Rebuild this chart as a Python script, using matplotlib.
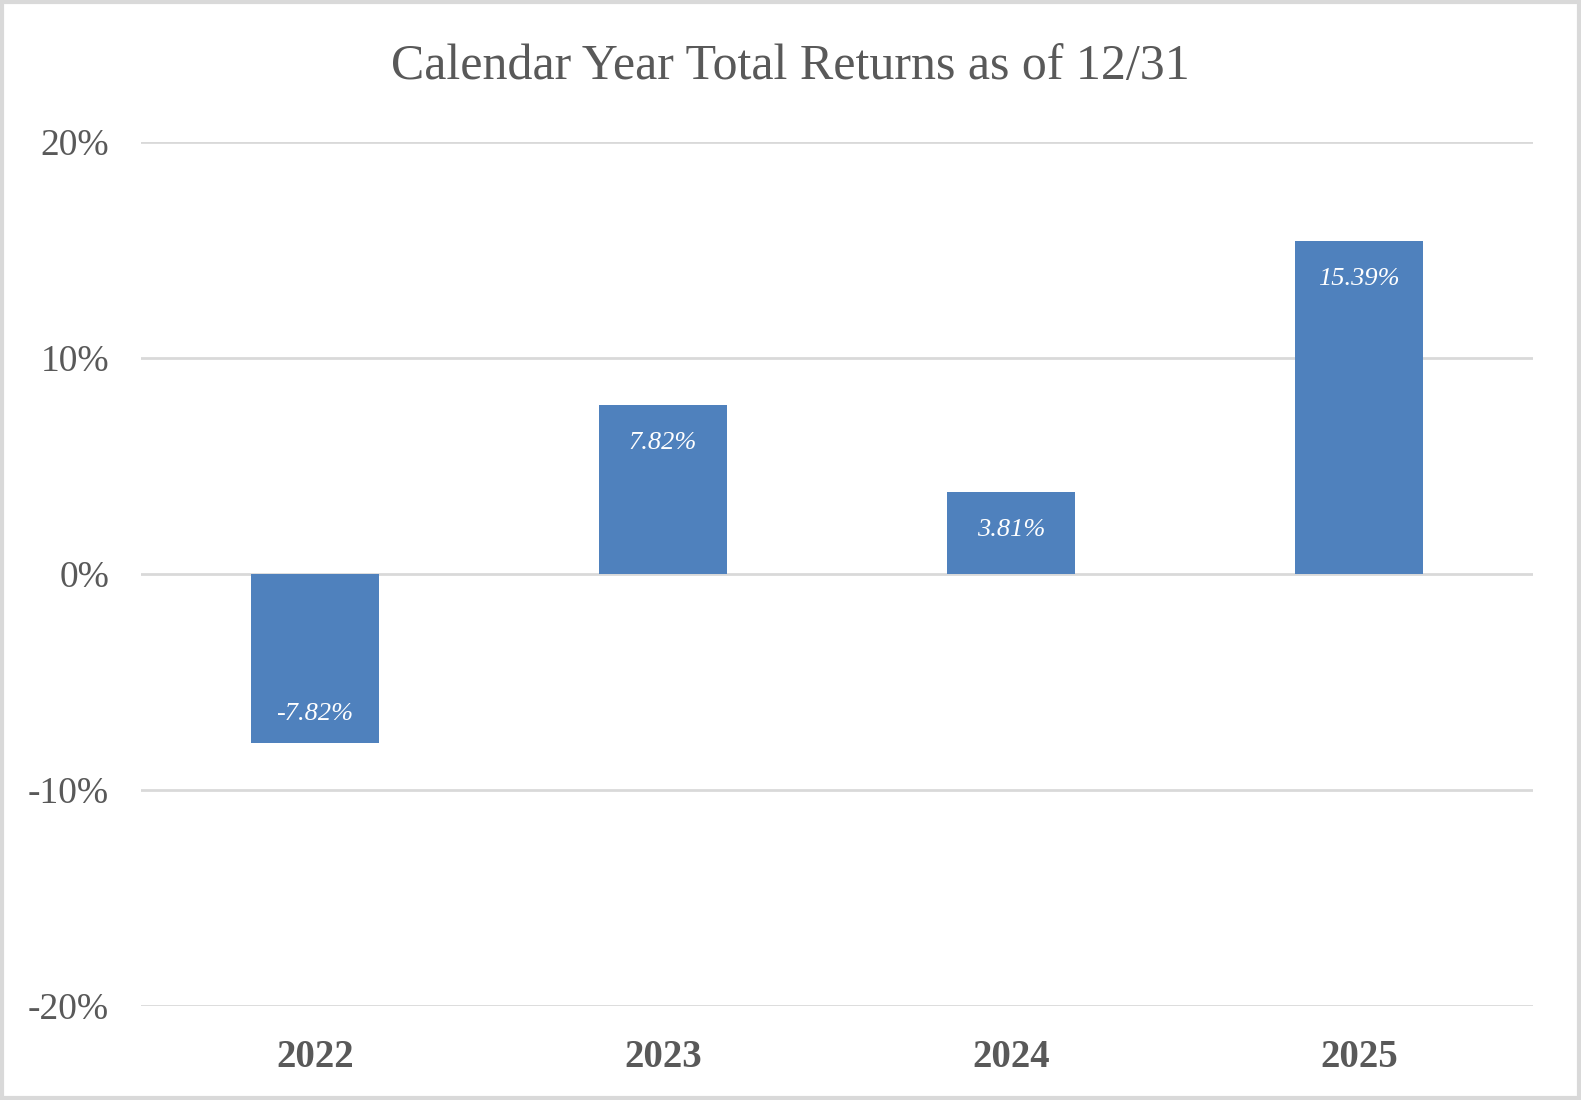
import numpy as np
import matplotlib.pyplot as plt
from matplotlib.ticker import FuncFormatter

years = ['2022', '2023', '2024', '2025']
returns = [-7.82, 7.82, 3.81, 15.39]
y_ticks = [-20, -10, 0, 10, 20]

text_color = '#595959'
bar_color = '#4F81BD'
grid_color = '#D9D9D9'

plt.rcParams['font.family'] = ['Liberation Serif', 'DejaVu Serif']

fig = plt.figure(figsize=(15.81, 11), dpi=100)
fig.patch.set_facecolor('white')
# light border round the whole chart
fig.patches.append(plt.Rectangle((0.001, 0.0015), 0.998, 0.997, transform=fig.transFigure,
                                 fill=False, edgecolor=grid_color, linewidth=3))

ax = fig.add_axes([0.0892, 0.0855, 0.8804, 0.7855])
x = np.arange(len(years))
bars = ax.bar(x, returns, width=0.368, color=bar_color, zorder=3)

ax.set_xlim(-0.5, len(years) - 0.5)
ax.set_ylim(-20, 20)
ax.set_yticks(y_ticks)
ax.yaxis.set_major_formatter(FuncFormatter(lambda v, p: f'{v:.0f}%'))
ax.grid(axis='y', color=grid_color, linewidth=2, zorder=0)
for s in ax.spines.values():
    s.set_visible(False)
ax.tick_params(axis='both', length=0, colors=text_color)
ax.tick_params(axis='y', labelsize=27, pad=23)
ax.tick_params(axis='x', pad=24)
ax.set_xticks(x)
ax.set_xticklabels(years, fontsize=28, fontweight='bold', color=text_color)

for bar, val in zip(bars, returns):
    # pixel offset from the bar end, label sits inside the bar
    offset = -38 if val >= 0 else 29
    ax.annotate(f'{val:.2f}%', (bar.get_x() + bar.get_width() / 2, val),
                xytext=(0, offset * 0.72), textcoords='offset points',
                ha='center', va='center', color='white', fontsize=19,
                fontstyle='italic', zorder=4)

fig.text(0.5, 1 - 67 / 1100, 'Calendar Year Total Returns as of 12/31',
         ha='center', va='center', fontsize=36, color=text_color)

fig.savefig('out.png', dpi=100)
